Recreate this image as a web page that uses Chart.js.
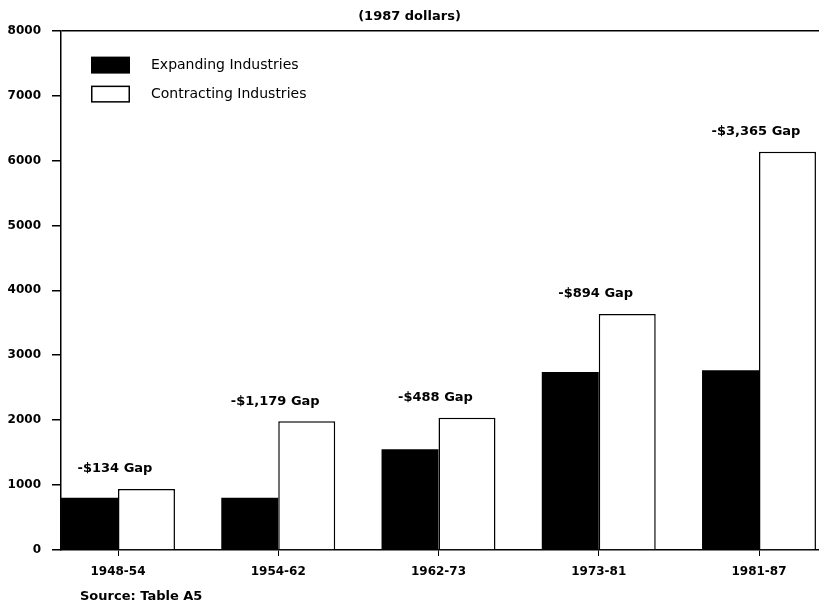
<!DOCTYPE html>
<html>
<head>
<meta charset="utf-8">
<title>Earnings by industry group</title>
<script src="https://cdn.jsdelivr.net/npm/chart.js@4/dist/chart.umd.min.js"></script>
<style>
  html, body { margin: 0; padding: 0; background: #fff; }
  #wrap { width: 819px; height: 607px; }
</style>
</head>
<body>
<div id="wrap"><canvas id="c" width="819" height="607"></canvas></div>
<script>
// Periods on the horizontal axis
const periods = ['1948-54', '1954-62', '1962-73', '1973-81', '1981-87'];
// Average earnings, 1987 dollars
const expanding = [806, 805, 1550, 2740, 2770];
const contracting = [940, 1984, 2038, 3634, 6135];
// Vertical axis ticks
const yTicks = [0, 1000, 2000, 3000, 4000, 5000, 6000, 7000, 8000];

const seriesNames = ['Expanding Industries', 'Contracting Industries'];

function gapText(i) {
  const gap = contracting[i] - expanding[i];
  return '-$' + gap.toLocaleString('en-US') + ' Gap';
}

// Gap label over each pair of bars
const gapLabels = {
  id: 'gapLabels',
  afterDatasetsDraw(chart) {
    const ctx = chart.ctx;
    const xs = chart.scales.x;
    ctx.save();
    ctx.font = 'bold 13px "DejaVu Sans"';
    ctx.fillStyle = '#000';
    ctx.textAlign = 'center';
    ctx.textBaseline = 'middle';
    periods.forEach((p, i) => {
      let top = Infinity;
      chart.data.datasets.forEach((ds, d) => {
        const el = chart.getDatasetMeta(d).data[i];
        if (el) top = Math.min(top, el.y);
      });
      ctx.fillText(gapText(i), xs.getPixelForValue(i) - 3, top - 20);
    });
    ctx.restore();
  }
};

// Boxed legend in the upper-left of the plot, plus the source note
const sideNotes = {
  id: 'sideNotes',
  afterDraw(chart) {
    const ctx = chart.ctx;
    const a = chart.chartArea;
    ctx.save();
    chart.data.datasets.forEach((ds, d) => {
      const bx = a.left + 30, by = a.top + 26 + d * 29;
      ctx.fillStyle = ds.backgroundColor;
      ctx.fillRect(bx, by, 39, 17);
      if (ds.borderWidth) {
        ctx.strokeStyle = ds.borderColor;
        ctx.lineWidth = 1.5;
        ctx.strokeRect(bx + 0.75, by + 0.75, 37.5, 15.5);
      }
      ctx.fillStyle = '#000';
      ctx.font = '14px "DejaVu Sans"';
      ctx.textAlign = 'left';
      ctx.textBaseline = 'middle';
      ctx.fillText(ds.label, a.left + 90, by + 8.5);
    });
    ctx.font = 'bold 13px "DejaVu Sans"';
    ctx.textBaseline = 'middle';
    ctx.fillText('Source: Table A5', a.left + 19, 597);
    ctx.restore();
  }
};

new Chart(document.getElementById('c'), {
  type: 'bar',
  data: {
    datasets: [
      {
        label: seriesNames[0],
        data: expanding.map((v, i) => ({ x: i, y: v })),
        backgroundColor: '#000',
        borderWidth: 0
      },
      {
        label: seriesNames[1],
        data: contracting.map((v, i) => ({ x: i, y: v })),
        backgroundColor: '#fff',
        borderColor: '#000',
        borderWidth: 1.5
      }
    ]
  },
  options: {
    responsive: false,
    animation: false,
    categoryPercentage: 0.711,
    barPercentage: 1,
    layout: { padding: 0 },
    plugins: {
      legend: { display: false },
      tooltip: { enabled: false },
      title: {
        display: true,
        text: '(1987 dollars)',
        color: '#000',
        font: { family: 'DejaVu Sans', size: 13, weight: 'bold' },
        padding: { top: 9, bottom: 6 }
      }
    },
    scales: {
      x: {
        type: 'linear',
        offset: false,
        min: -0.3557,
        max: 4.3744,
        afterBuildTicks(s) { s.ticks = periods.map((p, i) => ({ value: i })); },
        afterFit(s) { s.height = 57; },
        ticks: {
          color: '#000',
          font: { family: 'DejaVu Sans', size: 12, weight: 'bold' },
          padding: 9,
          maxRotation: 0,
          autoSkip: false,
          callback: (v) => periods[v]
        },
        grid: {
          offset: false,
          drawOnChartArea: false,
          tickLength: 6,
          tickColor: '#000',
          tickWidth: 1
        },
        border: { color: '#000', width: 1.5 }
      },
      y: {
        min: 0,
        max: 8000,
        afterBuildTicks(s) { s.ticks = yTicks.map(v => ({ value: v })); },
        afterFit(s) { s.width = 61; },
        ticks: {
          color: '#000',
          font: { family: 'DejaVu Sans', size: 12, weight: 'bold' },
          padding: 11,
          callback: (v) => String(v)
        },
        grid: {
          color: (c) => (c.tick && c.tick.value === 8000 ? '#000' : 'rgba(0,0,0,0)'),
          lineWidth: 1.5,
          tickLength: 9,
          tickColor: '#000',
          tickWidth: 1.5
        },
        border: { color: '#000', width: 1.5 }
      }
    }
  },
  plugins: [gapLabels, sideNotes]
});
</script>
</body>
</html>
